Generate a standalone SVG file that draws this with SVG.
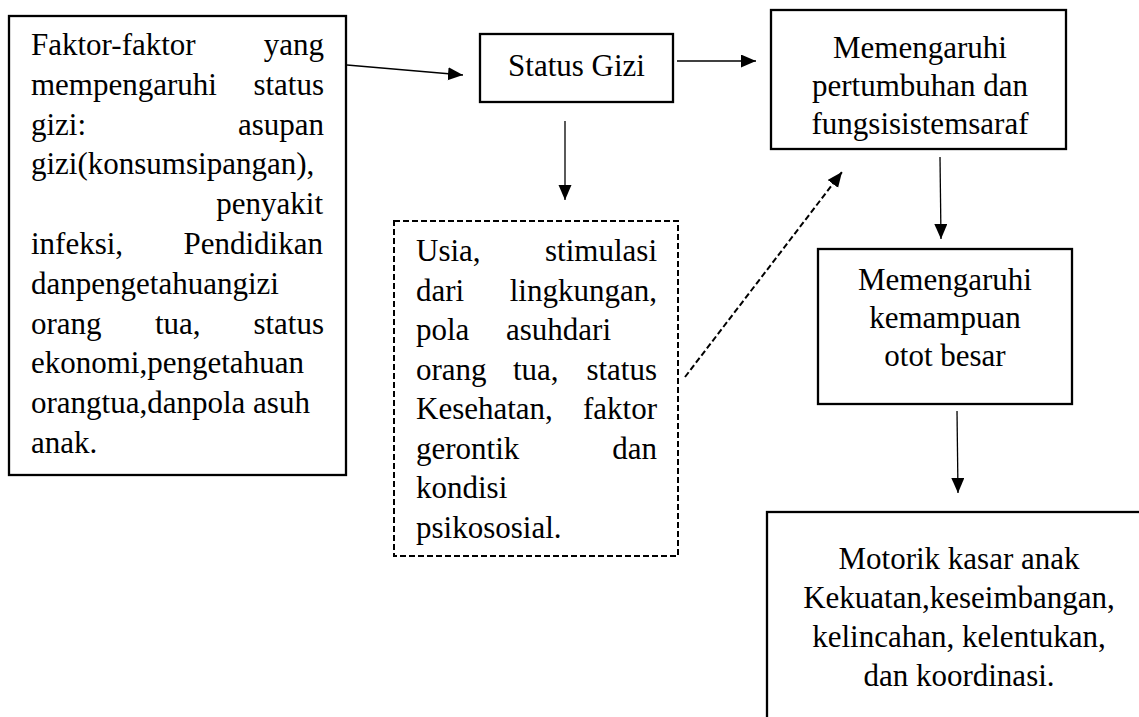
<svg xmlns="http://www.w3.org/2000/svg" width="1139" height="717" viewBox="0 0 1139 717">
<style>
.box{fill:#fff;stroke:#000;stroke-width:2.3}
.dbox{fill:#fff;stroke:#000;stroke-width:2;stroke-dasharray:6,3}
.t{font-family:'Liberation Serif',serif;font-size:31px;fill:#000}
.e{text-anchor:end}
.m{text-anchor:middle}
.c{stroke:#000;stroke-width:1.3;fill:none}
.d{stroke-dasharray:6,3;stroke-width:2}
</style>
<defs>
<marker id="ah" markerUnits="userSpaceOnUse" markerWidth="16" markerHeight="14" refX="15" refY="6.5" orient="auto">
<path d="M0,0 L15,6.5 L0,13 z" fill="#000"/>
</marker>
</defs>
<rect width="1139" height="717" fill="#fff"/>
<g id="node-faktor" font-family="Liberation Serif">
<rect class="box" x="9" y="16" width="337" height="459"/>
<text class="t" x="31" y="55">Faktor-faktor</text><text class="t e" x="324" y="55">yang</text>
<text class="t" x="31" y="94.8">mempengaruhi</text><text class="t e" x="324" y="94.8">status</text>
<text class="t" x="31" y="134.6">gizi:</text><text class="t e" x="324" y="134.6">asupan</text>
<text class="t" x="31" y="174.4">gizi(konsumsipangan),</text>
<text class="t e" x="323" y="214.2">penyakit</text>
<text class="t" x="31" y="254">infeksi,</text><text class="t e" x="323" y="254">Pendidikan</text>
<text class="t" x="31" y="293.8">danpengetahuangizi</text>
<text class="t" x="31" y="333.6">orang</text><text class="t" x="155" y="333.6">tua,</text><text class="t e" x="324" y="333.6">status</text>
<text class="t" x="31" y="373.4">ekonomi,pengetahuan</text>
<text class="t" x="31" y="413.2">orangtua,danpola asuh</text>
<text class="t" x="31" y="453">anak.</text>
</g>
<g id="node-status">
<rect class="box" x="480" y="34" width="193" height="68"/>
<text class="t m" x="576.5" y="76">Status Gizi</text>
</g>
<g id="node-usia">
<rect class="dbox" x="394" y="221" width="284" height="335"/>
<text class="t" x="416" y="261">Usia,</text><text class="t e" x="657" y="261">stimulasi</text>
<text class="t" x="416" y="300.5">dari</text><text class="t e" x="657" y="300.5">lingkungan,</text>
<text class="t" x="416" y="340">pola</text><text class="t" x="506" y="340">asuhdari</text>
<text class="t" x="416" y="379.5">orang</text><text class="t" x="513" y="379.5">tua,</text><text class="t e" x="657" y="379.5">status</text>
<text class="t" x="416" y="419">Kesehatan,</text><text class="t e" x="657" y="419">faktor</text>
<text class="t" x="416" y="458.5">gerontik</text><text class="t e" x="657" y="458.5">dan</text>
<text class="t" x="416" y="498">kondisi</text>
<text class="t" x="416" y="537.5">psikososial.</text>
</g>
<g id="node-pertumbuhan">
<rect class="box" x="771" y="10" width="295" height="139"/>
<text class="t m" x="920" y="58">Memengaruhi</text>
<text class="t m" x="920" y="96">pertumbuhan dan</text>
<text class="t m" x="920" y="134">fungsisistemsaraf</text>
</g>
<g id="node-kemampuan">
<rect class="box" x="818" y="249" width="254" height="155"/>
<text class="t m" x="945" y="290">Memengaruhi</text>
<text class="t m" x="945" y="328">kemampuan</text>
<text class="t m" x="945" y="366">otot besar</text>
</g>
<g id="node-motorik">
<rect class="box" x="767" y="512" width="400" height="260"/>
<text class="t m" x="959" y="569">Motorik kasar anak</text>
<text class="t m" x="959" y="608">Kekuatan,keseimbangan,</text>
<text class="t m" x="959" y="647">kelincahan, kelentukan,</text>
<text class="t m" x="959" y="686">dan koordinasi.</text>
</g>
<g id="connectors">
<line class="c" x1="347" y1="65" x2="463" y2="75" marker-end="url(#ah)"/>
<line class="c" x1="677" y1="61" x2="756" y2="61" marker-end="url(#ah)"/>
<line class="c" x1="565" y1="121" x2="565" y2="200" marker-end="url(#ah)"/>
<line class="c d" x1="685" y1="377" x2="842" y2="172" marker-end="url(#ah)"/>
<line class="c" x1="940" y1="157" x2="941" y2="239" marker-end="url(#ah)"/>
<line class="c" x1="957" y1="411" x2="958" y2="493" marker-end="url(#ah)"/>
</g>
</svg>
